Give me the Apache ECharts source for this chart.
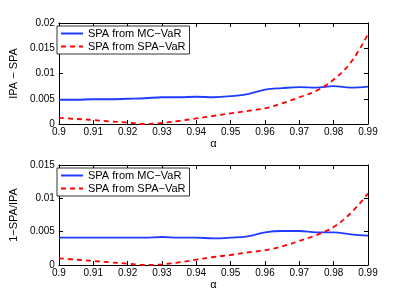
<!DOCTYPE html>
<html><head><meta charset="utf-8">
<script src="https://cdn.jsdelivr.net/npm/echarts@6/dist/echarts.min.js"></script>
<style>html,body{margin:0;padding:0;background:#fff}#c{width:407px;height:299px}</style>
</head><body><div id="c"></div>
<script>
const alphas = [0.9,0.905,0.91,0.915,0.92,0.925,0.93,0.935,0.94,0.945,0.95,0.955,0.96,0.965,0.97,0.975,0.98,0.985,0.99];
const topMC  = [0.0048,0.0048,0.0049,0.0049,0.0050,0.0051,0.0053,0.0053,0.0054,0.0053,0.0055,0.0059,0.0068,0.0071,0.0073,0.0072,0.0075,0.0072,0.0074];
const topSPA = [0.0012,0.0010,0.0008,0.0005,0.0003,0.0000,0.0002,0.0006,0.0011,0.0016,0.0021,0.0026,0.0031,0.0041,0.0053,0.0066,0.0088,0.0122,0.0178];
const botMC  = [0.0041,0.0041,0.0041,0.0041,0.0041,0.0041,0.0042,0.0041,0.0041,0.0040,0.0041,0.0043,0.0049,0.0051,0.0051,0.0049,0.0049,0.0046,0.0044];
const botSPA = [0.0010,0.0008,0.0006,0.0004,0.0002,0.0000,0.0001,0.0004,0.0008,0.0012,0.0015,0.0019,0.0022,0.0028,0.0036,0.0045,0.0057,0.0078,0.0107];
const names = ['SPA from MC\u2212VaR','SPA from SPA\u2212VaR'];
const yTitles = ['IPA \u2212 SPA','1\u2212SPA/IPA'];
const yMax = [0.02, 0.015];
const yInt = [0.005, 0.005];

const font = 'Liberation Sans';
const grids = [
  {left:53, right:39, top:23, height:101},
  {left:53, right:39, top:165, height:100}
];
const xAxes = [], yAxes = [];
grids.forEach((g,i)=>{
  xAxes.push({gridIndex:i, type:'value', min:0.9, max:0.99, interval:0.01, position:'bottom',
    name:'\u03b1', nameLocation:'middle', nameGap:14, nameTextStyle:{fontFamily:font,fontSize:11,color:'#000'},
    axisLine:{onZero:false,lineStyle:{color:'#000',width:1}}, axisTick:{inside:true,length:4,lineStyle:{color:'#000'}},
    axisLabel:{fontFamily:font,fontSize:10,color:'#000',margin:3,formatter:v=>String(+v.toFixed(2))},
    splitLine:{show:false}});
  xAxes.push({gridIndex:i, type:'value', min:0.9, max:0.99, interval:0.01, position:'top',
    axisLine:{onZero:false,lineStyle:{color:'#000',width:1}}, axisTick:{inside:true,length:4,lineStyle:{color:'#000'}},
    axisLabel:{show:false}, splitLine:{show:false}});
  yAxes.push({gridIndex:i, type:'value', min:0, max:yMax[i], interval:yInt[i], position:'left',
    name:yTitles[i], nameLocation:'middle', nameGap:34, nameTextStyle:{fontFamily:font,fontSize:11,color:'#000'},
    axisLine:{show:true,lineStyle:{color:'#000',width:1}}, axisTick:{show:true,inside:true,length:4,lineStyle:{color:'#000'}},
    axisLabel:{fontFamily:font,fontSize:10,color:'#000',margin:4,formatter:v=>String(+v.toFixed(3))},
    splitLine:{show:false}});
  yAxes.push({gridIndex:i, type:'value', min:0, max:yMax[i], interval:yInt[i], position:'right',
    axisLine:{show:true,lineStyle:{color:'#000',width:1}}, axisTick:{show:true,inside:true,length:4,lineStyle:{color:'#000'}},
    axisLabel:{show:false}, splitLine:{show:false}});
});
const mk = (d)=>alphas.map((a,i)=>[a,d[i]]);
const series = [];
[[topMC,topSPA],[botMC,botSPA]].forEach((pair,i)=>{
  series.push({type:'line', name:names[0], xAxisIndex:2*i, yAxisIndex:2*i, data:mk(pair[0]), smooth:0.4, symbol:'none',
    lineStyle:{color:'#1f3cff',width:1.8,type:'solid'}, itemStyle:{color:'#1f3cff'}});
  series.push({type:'line', name:names[1], xAxisIndex:2*i, yAxisIndex:2*i, data:mk(pair[1]), smooth:0.4, symbol:'none',
    lineStyle:{color:'#ff0000',width:1.8,type:[5,4]}, itemStyle:{color:'#ff0000'}});
});
const legendCommon = {orient:'vertical', left:57, itemWidth:22, itemHeight:10, itemGap:2,
  borderColor:'#000', borderWidth:0.8, padding:[2,4,2,3], backgroundColor:'#fff',
  itemStyle:{color:'transparent',borderColor:'transparent',borderWidth:0,opacity:0},
  textStyle:{fontFamily:font,fontSize:11,color:'#000'}, data:names};
const chart = echarts.init(document.getElementById('c'));
chart.setOption({
  animation:false,
  grid:grids,
  xAxis:xAxes, yAxis:yAxes,
  legend:[Object.assign({},legendCommon,{top:26}), Object.assign({},legendCommon,{top:168})],
  series:series
});
</script></body></html>
